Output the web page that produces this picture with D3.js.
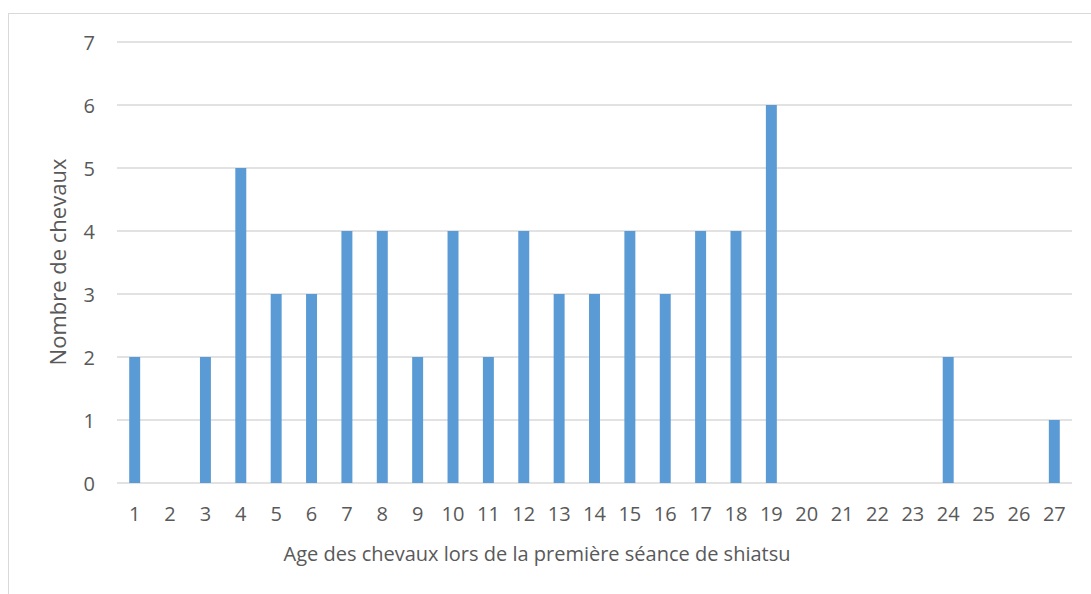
<!DOCTYPE html>
<html>
<head>
<meta charset="utf-8">
<script src="https://cdn.jsdelivr.net/npm/d3@7"></script>
<style>
  body { margin: 0; background: #fff; }
  svg { display: block; }
  text { font-family: "Open Sans", "Noto Sans", sans-serif; fill: #595959; }
</style>
</head>
<body>
<div id="chart"></div>
<script>
// Data
const ages = d3.range(1, 28).map(String);
const counts = [2, 0, 2, 5, 3, 3, 4, 4, 2, 4, 2, 4, 3, 3, 4, 3, 4, 4, 6, 0, 0, 0, 0, 2, 0, 0, 1];
const yTicks = [0, 1, 2, 3, 4, 5, 6, 7];

const WIDTH = 1091, HEIGHT = 594;
const margin = { left: 117, right: 19, top: 42, bottom: 111 };

const svg = d3.select("#chart").append("svg")
  .attr("width", WIDTH)
  .attr("height", HEIGHT);

// chart frame (cropped on right / bottom)
svg.append("rect")
  .attr("x", 8.5).attr("y", 13.5)
  .attr("width", WIDTH + 10).attr("height", HEIGHT + 10)
  .attr("fill", "none")
  .attr("stroke", "#d9d9d9")
  .attr("stroke-width", 1);

const x = d3.scaleBand()
  .domain(ages)
  .range([margin.left, WIDTH - margin.right])
  .paddingInner(0.69)
  .paddingOuter(0.345);

const y = d3.scaleLinear()
  .domain([0, 7])
  .range([HEIGHT - margin.bottom, margin.top]);

// gridlines
svg.append("g")
  .selectAll("line")
  .data(yTicks)
  .join("line")
  .attr("x1", margin.left)
  .attr("x2", WIDTH - margin.right)
  .attr("y1", d => y(d))
  .attr("y2", d => y(d))
  .attr("stroke", "#d9d9d9")
  .attr("stroke-width", 1.3);

// bars
svg.append("g")
  .selectAll("rect")
  .data(counts)
  .join("rect")
  .attr("x", (d, i) => x(ages[i]))
  .attr("y", d => y(d))
  .attr("width", x.bandwidth())
  .attr("height", d => y(0) - y(d))
  .attr("fill", "#5b9bd5");

// y axis labels
const yAxis = svg.append("g")
  .attr("transform", `translate(95,0)`)
  .call(d3.axisLeft(y).tickValues(yTicks).tickFormat(d3.format("d")).tickSize(0).tickPadding(0));
yAxis.select(".domain").remove();
yAxis.selectAll("text")
  .style("font-size", "20px")
  .style("font-family", "'Open Sans', sans-serif")
  .style("fill", "#595959")
  .attr("dy", "0.36em");

// x axis labels
const xAxis = svg.append("g")
  .attr("transform", `translate(0,${y(0)})`)
  .call(d3.axisBottom(x).tickSize(0).tickPadding(0));
xAxis.select(".domain").remove();
xAxis.selectAll("text")
  .style("font-size", "20px")
  .style("font-family", "'Open Sans', sans-serif")
  .style("fill", "#595959")
  .attr("dy", null)
  .attr("y", 38);

// axis titles
svg.append("text")
  .attr("x", 537)
  .attr("y", 561)
  .attr("text-anchor", "middle")
  .style("font-size", "20px")
  .text("Age des chevaux lors de la première séance de shiatsu");

svg.append("text")
  .attr("transform", "translate(66,262) rotate(-90)")
  .attr("text-anchor", "middle")
  .style("font-size", "22px")
  .text("Nombre de chevaux");
</script>
</body>
</html>
